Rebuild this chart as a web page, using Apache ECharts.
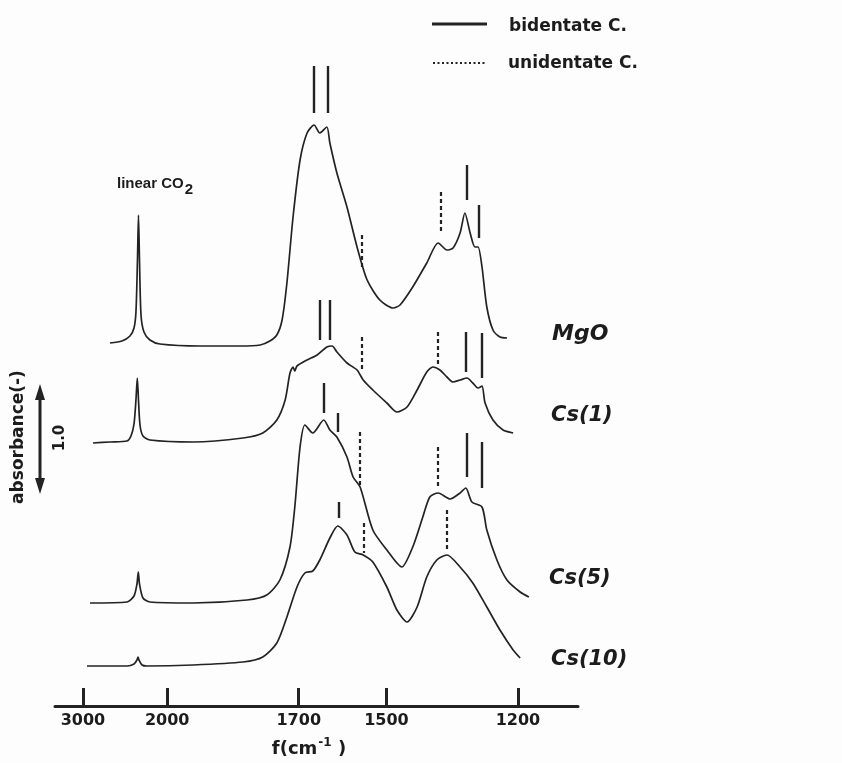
<!DOCTYPE html>
<html>
<head>
<meta charset="utf-8">
<script src="https://cdn.jsdelivr.net/npm/echarts@6/dist/echarts.min.js"></script>
<style>
html,body{margin:0;padding:0;background:#fdfdfd;}
#chart{width:842px;height:763px;}
</style>
</head>
<body>
<div id="chart"></div>
<script>
// ---- data (wavenumber cm-1, absorbance relative to each spectrum's baseline) ----
const tickLabels = [3000, 2000, 1700, 1500, 1200];
const spectrumNames = ['MgO', 'Cs(1)', 'Cs(5)', 'Cs(10)'];
const offsets = [3.61, 2.64, 1.03, 0.40];

const wnMgO = [2679,2537,2442,2394,2371,2353,2341,2329,2311,2276,2205,2086,1925,1834,1788,1766,1750,1738,1727,1713,1697,1681,1665,1652,1636,1629,1613,1590,1567,1544,1515,1485,1469,1440,1408,1382,1362,1348,1332,1321,1309,1298,1291,1282,1271,1257,1241,1225];
const absMgO = [0.02,0.04,0.09,0.17,0.33,0.85,1.30,0.85,0.30,0.13,0.05,0.01,-0.01,-0.01,0,0.04,0.10,0.25,0.62,1.28,1.85,2.12,2.20,2.12,2.18,2.02,1.72,1.38,0.98,0.65,0.45,0.37,0.40,0.58,0.82,1.02,0.95,0.97,1.12,1.32,1.12,0.98,0.98,0.78,0.38,0.15,0.08,0.07];

const wnCs1 = [2881,2679,2477,2430,2394,2371,2355,2341,2323,2288,2205,1941,1827,1782,1750,1731,1720,1713,1709,1704,1681,1658,1636,1624,1613,1590,1567,1553,1531,1499,1476,1453,1430,1408,1394,1378,1362,1348,1332,1316,1303,1291,1282,1275,1257,1234,1211];
const absCs1 = [-0.01,0,0.01,0.06,0.18,0.42,0.64,0.42,0.17,0.06,0.02,0,0.04,0.09,0.22,0.42,0.69,0.75,0.71,0.76,0.82,0.87,0.95,0.96,0.90,0.79,0.72,0.62,0.52,0.39,0.30,0.35,0.52,0.70,0.75,0.72,0.65,0.60,0.62,0.64,0.59,0.54,0.56,0.39,0.22,0.12,0.09];

const wnCs5 = [2916,2477,2394,2359,2343,2329,2288,2205,1941,1818,1773,1743,1720,1709,1697,1686,1668,1643,1629,1613,1590,1576,1560,1531,1499,1465,1440,1417,1401,1382,1355,1332,1319,1305,1282,1271,1248,1225,1195,1175];
const absCs5 = [0,0.01,0.07,0.19,0.31,0.19,0.05,0.01,0,0.03,0.08,0.23,0.56,0.96,1.56,1.78,1.70,1.83,1.73,1.66,1.46,1.26,1.16,0.73,0.53,0.36,0.56,0.86,1.06,1.10,1.04,1.10,1.15,1.01,0.96,0.73,0.43,0.23,0.11,0.06];

const wnCs10 = [2952,2477,2394,2359,2347,2335,2299,2240,1941,1827,1782,1750,1727,1704,1686,1668,1652,1629,1611,1590,1572,1553,1531,1499,1476,1453,1430,1408,1385,1362,1332,1303,1271,1241,1211,1195];
const absCs10 = [0,0,0.02,0.06,0.09,0.06,0.01,0,0.01,0.04,0.09,0.23,0.49,0.79,0.93,0.95,1.06,1.28,1.40,1.31,1.14,1.11,1.04,0.79,0.56,0.44,0.59,0.89,1.06,1.11,0.99,0.83,0.59,0.36,0.16,0.08];

// band assignment markers: b = bidentate carbonate, u = unidentate carbonate
const mkWnMgO = [1665,1633,1556,1376,1316,1289];
const mkKindMgO = ['b','b','u','u','b','b'];
const mkTopMgO = [2.79,2.79,1.10,1.53,1.80,1.40];
const mkBotMgO = [2.32,2.32,0.77,1.11,1.45,1.07];

const mkWnCs1 = [1652,1629,1556,1382,1319,1282];
const mkKindCs1 = ['b','b','u','u','b','b'];
const mkTopCs1 = [1.42,1.42,1.05,1.10,1.10,1.09];
const mkBotCs1 = [1.02,1.02,0.72,0.77,0.70,0.64];

const mkWnCs5 = [1643,1610,1560,1382,1316,1282];
const mkKindCs5 = ['b','b','u','u','b','b'];
const mkTopCs5 = [2.20,1.90,1.71,1.56,1.70,1.61];
const mkBotCs5 = [1.90,1.71,1.15,1.16,1.26,1.15];

const mkWnCs10 = [1608,1551,1362];
const mkKindCs10 = ['b','u','u'];
const mkTopCs10 = [1.64,1.43,1.56];
const mkBotCs10 = [1.48,1.13,1.16];

// ---- axis transform: region above 2000 cm-1 is compressed ----
const BREAK = 2000, COMPRESS = 5.2;
function toAxis(w){ return w <= BREAK ? w : BREAK + (w - BREAK) / COMPRESS; }
function fromAxis(u){ return u <= BREAK ? u : BREAK + (u - BREAK) * COMPRESS; }

const INK = '#232323';
const TXT = '#1c1c1c';
const FONT = '"DejaVu Sans", Verdana, sans-serif';
const FONT2 = '"Liberation Sans", Arial, Helvetica, sans-serif';

const specs = [
  {wn: wnMgO, ab: absMgO, mw: mkWnMgO, mk: mkKindMgO, mt: mkTopMgO, mb: mkBotMgO},
  {wn: wnCs1, ab: absCs1, mw: mkWnCs1, mk: mkKindCs1, mt: mkTopCs1, mb: mkBotCs1},
  {wn: wnCs5, ab: absCs5, mw: mkWnCs5, mk: mkKindCs5, mt: mkTopCs5, mb: mkBotCs5},
  {wn: wnCs10, ab: absCs10, mw: mkWnCs10, mk: mkKindCs10, mt: mkTopCs10, mb: mkBotCs10}
];

const series = specs.map((s, i) => ({
  name: spectrumNames[i],
  type: 'line',
  smooth: 0.25,
  symbol: 'none',
  silent: true,
  lineStyle: {color: INK, width: 1.7},
  data: s.wn.map((w, j) => [toAxis(w), offsets[i] + s.ab[j]]),
  markLine: {
    silent: true,
    symbol: ['none', 'none'],
    label: {show: false},
    animation: false,
    data: s.mw.map((w, j) => [
      {coord: [toAxis(w), offsets[i] + s.mt[j]],
       lineStyle: s.mk[j] === 'b'
         ? {color: INK, width: 2.4, type: 'solid'}
         : {color: INK, width: 2.2, type: [4, 3]}},
      {coord: [toAxis(w), offsets[i] + s.mb[j]]}
    ])
  }
}));

const chart = echarts.init(document.getElementById('chart'), null, {renderer: 'canvas'});
const tickAxisVals = tickLabels.map(toAxis);

const option = {
  backgroundColor: '#fdfdfd',
  animation: false,
  grid: {left: 55, right: 264, top: 6, bottom: 57, containLabel: false},
  xAxis: {
    type: 'value',
    min: 1063, max: 2256, inverse: true,
    splitLine: {show: false},
    axisLine: {show: true, lineStyle: {color: INK, width: 3}},
    axisTick: {show: true, inside: true, length: 18, lineStyle: {color: INK, width: 3}, customValues: tickAxisVals},
    axisLabel: {
      show: true, margin: 7, customValues: tickAxisVals,
      color: TXT, fontFamily: FONT, fontWeight: 'bold', fontSize: 16,
      formatter: v => String(Math.round(fromAxis(v) / 100) * 100)
    }
  },
  yAxis: {type: 'value', min: 0, max: 7, show: false},
  series: series,
  graphic: {elements: [
    // legend
    {type: 'line', shape: {x1: 432, y1: 24, x2: 487, y2: 24}, style: {stroke: INK, lineWidth: 3}},
    {type: 'text', x: 509, y: 27, style: {text: 'bidentate C.', font: 'bold 17px ' + FONT, fill: TXT, verticalAlign: 'middle', align: 'left'}},
    {type: 'line', shape: {x1: 433, y1: 63, x2: 487, y2: 63}, style: {stroke: INK, lineWidth: 2.2, lineDash: [2, 2.5]}},
    {type: 'text', x: 508, y: 64, style: {text: 'unidentate C.', font: 'bold 17px ' + FONT, fill: TXT, verticalAlign: 'middle', align: 'left'}},
    // linear CO2 label
    {type: 'text', x: 117, y: 184, style: {
      text: 'linear CO{s|2}', font: 'bold 15px ' + FONT2, fill: TXT, verticalAlign: 'middle', align: 'left',
      rich: {s: {font: 'bold 15px ' + FONT2, fill: TXT, padding: [12, 0, 0, 1]}}
    }},
    // sample labels
    {type: 'text', x: 552, y: 334, style: {text: 'MgO', font: 'italic bold 22px ' + FONT, fill: TXT, verticalAlign: 'middle'}},
    {type: 'text', x: 551, y: 416, style: {text: 'Cs(1)', font: 'italic bold 21px ' + FONT, fill: TXT, verticalAlign: 'middle'}},
    {type: 'text', x: 549, y: 579, style: {text: 'Cs(5)', font: 'italic bold 21px ' + FONT, fill: TXT, verticalAlign: 'middle'}},
    {type: 'text', x: 551, y: 660, style: {text: 'Cs(10)', font: 'italic bold 21px ' + FONT, fill: TXT, verticalAlign: 'middle'}},
    // axis title
    {type: 'text', x: 309, y: 749, style: {
      text: 'f(cm{p|-1} )', font: 'bold 18px ' + FONT, fill: TXT, align: 'center', verticalAlign: 'middle',
      rich: {p: {font: 'bold 12px ' + FONT, fill: TXT, padding: [0, 0, 12, 1]}}
    }},
    // absorbance scale bar
    {type: 'text', x: 19, y: 437, rotation: Math.PI / 2, style: {text: 'absorbance(-)', font: 'bold 17px ' + FONT, fill: TXT, align: 'center', verticalAlign: 'middle'}},
    {type: 'line', shape: {x1: 40, y1: 395, x2: 40, y2: 483}, style: {stroke: INK, lineWidth: 3}},
    {type: 'polygon', shape: {points: [[40, 384], [35, 400], [45, 400]]}, style: {fill: INK}},
    {type: 'polygon', shape: {points: [[40, 494], [35, 478], [45, 478]]}, style: {fill: INK}},
    {type: 'text', x: 60, y: 438, rotation: Math.PI / 2, style: {text: '1.0', font: 'bold 15px ' + FONT, fill: TXT, align: 'center', verticalAlign: 'middle'}}
  ]}
};
chart.setOption(option);
</script>
</body>
</html>
